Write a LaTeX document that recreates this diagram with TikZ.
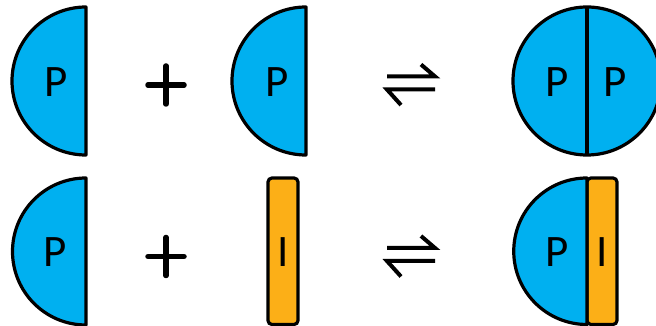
\documentclass[tikz,border=0pt]{standalone}
\usepackage{fontspec}
\setmainfont{Carlito}
\definecolor{pblue}{HTML}{00B0F0}
\definecolor{iorange}{HTML}{FCAF17}
\begin{document}
\begin{tikzpicture}[x=1pt,y=1pt,
  pshape/.style={fill=pblue,draw=black,line width=3.2pt,line join=round},
  ishape/.style={fill=iorange,draw=black,line width=3.2pt,rounded corners=4pt},
  lbl/.style={font=\fontsize{45}{45}\selectfont,anchor=base,inner sep=0pt},
  plussign/.style={line width=5.5pt,line cap=round},
  harp/.style={line width=4pt,line cap=butt,line join=miter}]
\useasboundingbox (0,0) rectangle (656,326);
\clip (0,0) rectangle (656,326);
% ---- top row ----
\draw[pshape] (86,319) arc[start angle=90,end angle=270,radius=74] -- cycle;
\node[lbl] (p1) at (56,229.5) {P};
\draw[plussign] (148,241) -- (184,241) (166,222) -- (166,260);
\draw[pshape] (306,319) arc[start angle=90,end angle=270,radius=74] -- cycle;
\node[lbl] (p2) at (277,229.5) {P};
\coordinate (a1s) at (387,249.5); \coordinate (a1e) at (435,249.5); \coordinate (a1b) at (421,261.5);
\coordinate (a2s) at (435,236.5); \coordinate (a2e) at (387,236.5); \coordinate (a2b) at (401,221);
\draw[harp] (a1s) -- (a1e) -- (a1b);
\draw[harp] (a2s) -- (a2e) -- (a2b);
\draw[pshape] (587,245) circle[radius=74];
\draw[line width=3.2pt] (587,319) -- (587,171);
\node[lbl] (p3) at (557,229.5) {P};
\node[lbl] (p4) at (615,229.5) {P};
% ---- bottom row ----
\draw[pshape] (86,148) arc[start angle=90,end angle=270,radius=73.5] -- cycle;
\node[lbl] (p5) at (55,59) {P};
\draw[plussign] (148,69.5) -- (184,69.5) (166,50.5) -- (166,88.5);
\draw[ishape] (268,1.5) rectangle (298,148);
\node[lbl] (i1) at (283,59) {I};
\coordinate (b1s) at (387,78); \coordinate (b1e) at (435,78); \coordinate (b1b) at (421,90);
\coordinate (b2s) at (435,65); \coordinate (b2e) at (387,65); \coordinate (b2b) at (401,49.5);
\draw[harp] (b1s) -- (b1e) -- (b1b);
\draw[harp] (b2s) -- (b2e) -- (b2b);
\draw[ishape] (587,1.5) rectangle (617,148);
\draw[pshape] (587,148) arc[start angle=90,end angle=270,radius=73.25] -- cycle;
\node[lbl] (p6) at (557,59) {P};
\node[lbl] (i2) at (602,59) {I};
\end{tikzpicture}
\end{document}
